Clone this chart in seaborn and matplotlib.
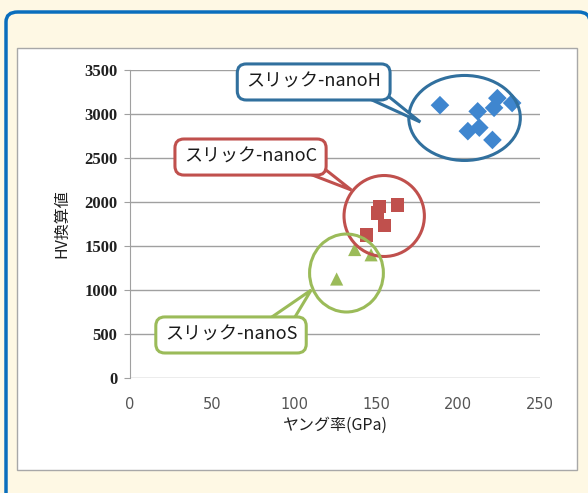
import pandas as pd
import matplotlib.pyplot as plt
import seaborn as sns
from matplotlib.patches import Ellipse, FancyBboxPatch, Polygon

# Data
h_young = [189, 212, 224, 222, 233, 206, 213, 221]
h_hv = [3100, 3030, 3180, 3070, 3125, 2805, 2845, 2705]
c_young = [152, 151, 163, 155, 144]
c_hv = [1945, 1875, 1965, 1730, 1625]
s_young = [137, 147, 126]
s_hv = [1460, 1400, 1125]

groups = ['nanoH', 'nanoC', 'nanoS']
colors = {'nanoH': '#3F86CF', 'nanoC': '#C0504D', 'nanoS': '#9BBB59'}
markers = {'nanoH': 'D', 'nanoC': 's', 'nanoS': '^'}
labels = {'nanoH': 'スリック-nanoH', 'nanoC': 'スリック-nanoC', 'nanoS': 'スリック-nanoS'}

df = pd.concat([
    pd.DataFrame({'young': h_young, 'hv': h_hv, 'grp': 'nanoH'}),
    pd.DataFrame({'young': c_young, 'hv': c_hv, 'grp': 'nanoC'}),
    pd.DataFrame({'young': s_young, 'hv': s_hv, 'grp': 'nanoS'}),
])

sns.set_style('white')
plt.rcParams['font.family'] = ['Noto Sans CJK JP', 'DejaVu Sans']

W, H = 588, 493
fig = plt.figure(figsize=(W / 100, H / 100), dpi=100, facecolor='#FEF8E4')

def fx(px):
    return px / W

def fy(py):
    return 1 - py / H

# outer blue frame and inner white panel
fig.patches.append(FancyBboxPatch((fx(6), fy(520)), fx(590) - fx(6), fy(12) - fy(520),
                                  boxstyle='round,pad=0,rounding_size=0.02',
                                  transform=fig.transFigure, fc='#FEF8E4', ec='#0A6EBD',
                                  lw=2.5, zorder=0))
fig.patches.append(plt.Rectangle((fx(17), fy(470)), fx(577) - fx(17), fy(48) - fy(470),
                                 transform=fig.transFigure, fc='white', ec='#A8A8A8',
                                 lw=1, zorder=1))

ax = fig.add_axes([fx(130), fy(378), fx(540) - fx(130), fy(70) - fy(378)])
ax.set_facecolor('white')
ax.set_zorder(2)

sns.scatterplot(data=df, x='young', y='hv', hue='grp', style='grp',
                palette=colors, markers=markers, s=90, edgecolor='none',
                legend=False, ax=ax, zorder=3)

ax.set_xlim(0, 250)
ax.set_ylim(0, 3500)
ax.set_xticks(range(0, 251, 50))
ax.set_yticks(range(0, 3501, 500))
ax.grid(axis='y', color='#A0A0A0', lw=1)
ax.grid(axis='x', visible=False)
for s in ['top', 'right', 'bottom']:
    ax.spines[s].set_visible(False)
ax.spines['left'].set_color('#A0A0A0')
ax.tick_params(axis='y', left=True, length=4, color='#A0A0A0', pad=5)
ax.tick_params(axis='x', bottom=False, pad=10)
for t in ax.get_yticklabels():
    t.set_fontfamily('Liberation Serif')
    t.set_fontweight('bold')
    t.set_fontsize(12)
    t.set_color('#202020')
for t in ax.get_xticklabels():
    t.set_fontfamily('DejaVu Sans')
    t.set_fontsize(10.5)
    t.set_color('#555555')

ax.set_xlabel('ヤング率(GPa)', fontsize=11.5, labelpad=4, color='#202020')
ax.set_ylabel('HV換算値', fontsize=11.5, labelpad=10, color='#202020')

# circles around groups
ax.add_patch(Ellipse((204, 2955), 68, 966, fill=False, ec='#31709E', lw=2.2, zorder=4))
ax.add_patch(Ellipse((155, 1841), 49, 920, fill=False, ec='#C0504D', lw=2.2, zorder=4))
ax.add_patch(Ellipse((132, 1193), 45, 886, fill=False, ec='#9BBB59', lw=2.2, zorder=4))

# callouts: label position, tail base points, tail tip
callouts = [
    ('nanoH', (112, 3364), [(131, 3300), (151, 3300)], (177, 2909), '#31709E'),
    ('nanoC', (73.5, 2511), [(94, 2430), (115, 2430)], (135, 2136), '#C0504D'),
    ('nanoS', (61.6, 489), [(73, 520), (95, 520)], (110.5, 1000), '#9BBB59'),
]
for g, xytext, base, tip, ec in callouts:
    ax.add_patch(Polygon([base[0], tip, base[1]], closed=True, fc='white', ec=ec,
                         lw=2.2, joinstyle='miter', zorder=4.5))
    ax.text(xytext[0], xytext[1], labels[g], ha='center', va='center',
            fontsize=13, color='#1A1A1A', zorder=5,
            bbox=dict(boxstyle='round,pad=0.5,rounding_size=0.5', fc='white', ec=ec, lw=2.2))

plt.savefig('out.png', dpi=100, facecolor=fig.get_facecolor())
